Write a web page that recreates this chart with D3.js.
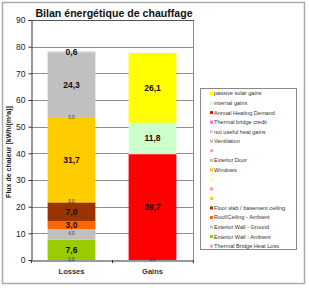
<!DOCTYPE html>
<html><head><meta charset="utf-8">
<script src="https://cdn.jsdelivr.net/npm/d3@7/dist/d3.min.js"></script>
<style>body{margin:0;background:#fff;}svg{display:block;font-family:"Liberation Sans",Arial,sans-serif;}</style>
</head><body><svg id="c" width="309" height="288"></svg>
<script>
// ---- data ----
const categories = ["Losses", "Gains"];
const seriesNames = [
  "Thermal Bridge Heat Loss", "Exterior Wall - Ambient", "Exterior Wall - Ground",
  "Roof/Ceiling - Ambient", "Floor slab / basement ceiling", "", "", "",
  "Windows", "Exterior Door", "", "Ventilation", "not useful heat gains",
  "Thermal bridge credit", "Annual Heating Demand", "internal gains", "passive solar gains"
];
const lossValues = [0.0, 7.6, 4.0, 3.0, 7.0, 0.0, 0.0, 0.0, 31.7, 0.0, 0.0, 24.3, 0.6, 0, 0, 0, 0];
const gainValues = [0, 0, 0, 0, 0, 0, 0, 0, 0, 0, 0, 0, 0, 0.0, 39.7, 11.8, 26.1];
const seriesColors = [
  "#ff99cc", "#99cc00", "#c0c0c0", "#ff6600", "#993300", "#ffcc00", "#ff9999", "#ffff99",
  "#ffcc00", "#c0c0c0", "#ff99cc", "#c0c0c0", "#ccccdd", "#ff66cc", "#ff0000", "#ccffcc", "#ffff00"
];
const yTicks = [0, 10, 20, 30, 40, 50, 60, 70, 80, 90];
// labels drawn in tiny type (series index per category)
const tinyLabels = { Losses: [0, 2, 5, 9], Gains: [13] };
const bigLabels = { Losses: [1, 3, 4, 8, 11, 12], Gains: [14, 15, 16] };
const titleText = "Bilan énergétique de chauffage";
const yTitle = "Flux de chaleur [kWh/(m²a)]";

// ---- layout ----
const svg = d3.select("#c");
const M = { left: 31, right: 193, top: 20, bottom: 260 };
const fmt = v => v.toFixed(1).replace(".", ",");

svg.append("rect").attr("x", 2.5).attr("y", 2.5).attr("width", 302).attr("height", 281)
  .attr("fill", "#fff").attr("stroke", "#aaa").attr("stroke-width", 1.5);

const x = d3.scaleBand().domain(categories).range([M.left, M.right]).paddingInner(0.41).paddingOuter(0.205);
const y = d3.scaleLinear().domain([0, 90]).range([M.bottom, M.top]);

// gridlines
svg.append("g").selectAll("line").data(yTicks.slice(1)).join("line")
  .attr("x1", M.left).attr("x2", M.right)
  .attr("y1", d => Math.round(y(d)) + 0.5).attr("y2", d => Math.round(y(d)) + 0.5)
  .attr("stroke", "#8c8c8c").attr("stroke-width", 1);
// right border
svg.append("line").attr("x1", M.right + 0.5).attr("x2", M.right + 0.5).attr("y1", M.top).attr("y2", M.bottom)
  .attr("stroke", "#8c8c8c");

// stacks
const table = categories.map((c, ci) => {
  const row = { cat: c };
  seriesNames.forEach((s, i) => row["s" + i] = (ci === 0 ? lossValues : gainValues)[i]);
  return row;
});
const keys = seriesNames.map((s, i) => "s" + i);
const stacked = d3.stack().keys(keys)(table);

const bars = svg.append("g");
stacked.forEach((layer, i) => {
  bars.selectAll(null).data(layer.filter(d => d[1] - d[0] > 0)).join("rect")
    .attr("x", d => x(d.data.cat)).attr("width", x.bandwidth())
    .attr("y", d => y(d[1])).attr("height", d => y(d[0]) - y(d[1]))
    .attr("fill", seriesColors[i]);
});

// labels
const lab = svg.append("g").attr("text-anchor", "middle");
categories.forEach((c, ci) => {
  const cx = x(c) + x.bandwidth() / 2;
  bigLabels[c].forEach(i => {
    const d = stacked[i][ci];
    lab.append("text").attr("x", cx).attr("y", y((d[0] + d[1]) / 2)).attr("dy", "0.35em")
      .attr("font-size", 8.5).attr("font-weight", "bold").attr("fill", "#1a0a00").text(fmt(d[1] - d[0]));
  });
  tinyLabels[c].forEach(i => {
    const d = stacked[i][ci];
    lab.append("text").attr("x", cx).attr("y", y((d[0] + d[1]) / 2) - 0.5).attr("dy", "0.35em")
      .attr("font-size", 4.5).attr("fill", "#333").text(fmt(d[1] - d[0]));
  });
});

// axes
const yAxis = svg.append("g").attr("transform", `translate(${M.left + 0.5},0)`)
  .call(d3.axisLeft(y).tickValues(yTicks).tickSize(3).tickPadding(3).tickFormat(d => d));
yAxis.select(".domain").attr("stroke", "#333");
yAxis.selectAll(".tick line").attr("stroke", "#333");
yAxis.selectAll("text").attr("font-size", 8.5).attr("fill", "#222").attr("font-family", "Liberation Sans, Arial, sans-serif");

const xAxis = svg.append("g").attr("transform", `translate(0,${M.bottom + 0.5})`)
  .call(d3.axisBottom(x).tickSize(0).tickPadding(8));
xAxis.select(".domain").attr("stroke", "#333");
xAxis.selectAll("text").attr("font-size", 7.5).attr("font-weight", "bold").attr("fill", "#333")
  .attr("font-family", "Liberation Sans, Arial, sans-serif");
// category separator ticks
const sepX = [M.left, (x("Losses") + x.bandwidth() + x("Gains")) / 2, M.right];
svg.append("g").selectAll("line").data(sepX).join("line")
  .attr("x1", d => Math.round(d) + 0.5).attr("x2", d => Math.round(d) + 0.5)
  .attr("y1", M.bottom).attr("y2", M.bottom + 3).attr("stroke", "#333");

// top border
svg.append("line").attr("x1", M.left).attr("x2", M.right + 1).attr("y1", M.top + 0.5).attr("y2", M.top + 0.5)
  .attr("stroke", "#555");

// titles
svg.append("text").attr("x", 114).attr("y", 17).attr("text-anchor", "middle")
  .attr("font-size", 10.6).attr("font-weight", "bold").attr("fill", "#111").text(titleText);
svg.append("text").attr("transform", `translate(11,152) rotate(-90)`).attr("text-anchor", "middle")
  .attr("font-size", 7).attr("font-weight", "bold").attr("fill", "#222").text(yTitle);

// legend
const lg = svg.append("g");
lg.append("rect").attr("x", 200.5).attr("y", 88.5).attr("width", 96).attr("height", 161)
  .attr("fill", "#fff").attr("stroke", "#888");
const legendOrder = d3.range(seriesNames.length).reverse();
legendOrder.forEach((i, r) => {
  const yy = 93.5 + r * 9.54;
  lg.append("rect").attr("x", 210).attr("y", yy - 1.5).attr("width", 3).attr("height", 3).attr("fill", seriesColors[i]);
  lg.append("text").attr("x", 214).attr("y", yy).attr("dy", "0.35em").attr("font-size", 5.6)
    .attr("fill", "#333").text(seriesNames[i]);
});
</script></body></html>
